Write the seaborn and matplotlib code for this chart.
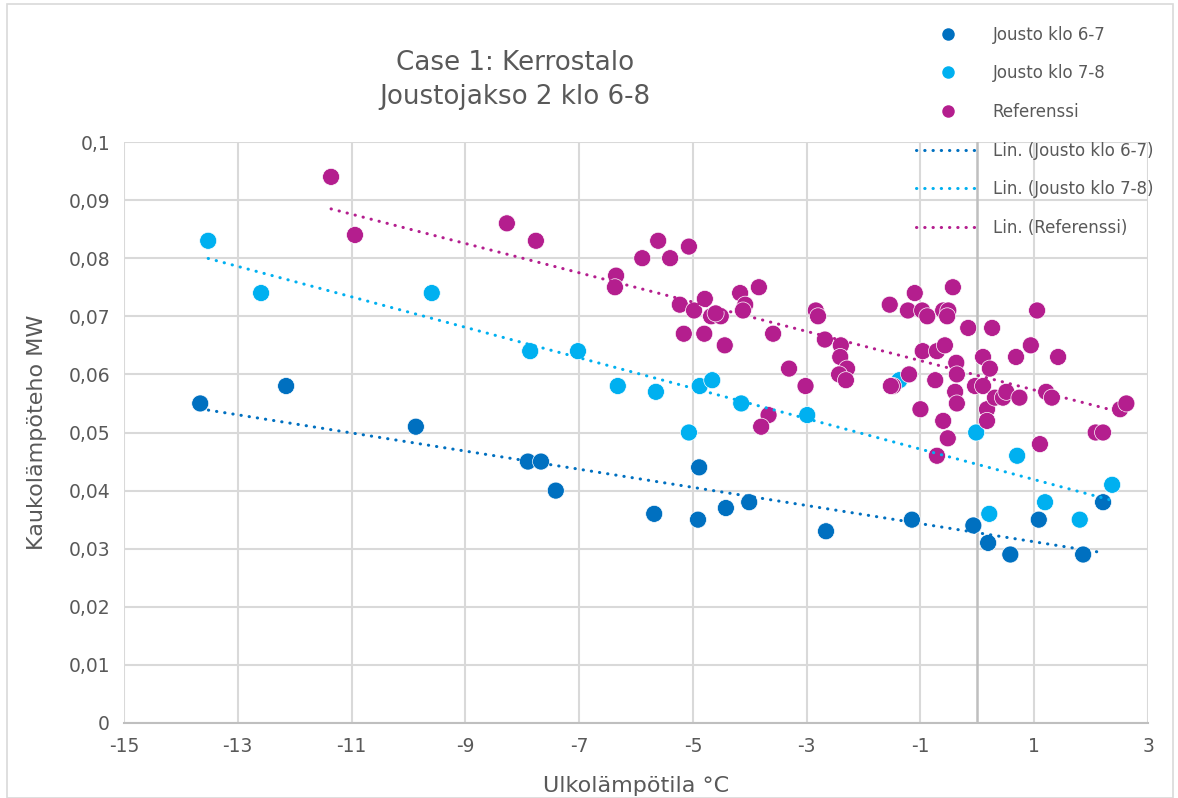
import numpy as np
import pandas as pd
import seaborn as sns
import matplotlib.pyplot as plt
from matplotlib.patches import Rectangle
from matplotlib.ticker import FuncFormatter

# Jousto klo 6-7
x_67 = [-13.66, -12.15, -9.87, -7.90, -7.67, -7.41, -5.68, -4.89, -4.91, -4.42,
        -4.01, -2.66, -1.15, -0.07, 0.19, 0.58, 1.08, 1.86, 2.21]
y_67 = [0.055, 0.058, 0.051, 0.045, 0.045, 0.040, 0.036, 0.044, 0.035, 0.037,
        0.038, 0.033, 0.035, 0.034, 0.031, 0.029, 0.035, 0.029, 0.038]

# Jousto klo 7-8
x_78 = [-13.52, -12.59, -9.59, -7.86, -7.02, -6.32, -5.65, -4.88, -4.66, -4.15,
        -5.07, -2.99, -1.37, -0.02, 0.21, 0.70, 1.19, 1.80, 2.37]
y_78 = [0.083, 0.074, 0.074, 0.064, 0.064, 0.058, 0.057, 0.058, 0.059, 0.055,
        0.050, 0.053, 0.059, 0.050, 0.036, 0.046, 0.038, 0.035, 0.041]

# Referenssi
x_ref = [-11.36, -10.94, -8.27, -7.76, -6.35, -6.37, -5.89, -5.61, -5.40, -5.07,
         -5.23, -4.98, -4.79, -4.68, -4.51, -4.60, -4.17, -4.08, -4.12, -3.84,
         -5.16, -4.80, -4.44, -3.59, -3.31, -3.02, -3.67, -3.80, -2.84, -2.80,
         -2.68, -2.40, -2.41, -2.29, -2.43, -2.31, -1.54, -1.10, -1.22, -0.97,
         -0.88, -0.60, -0.51, -0.53, -0.43, -0.16, 0.26, 1.05, -0.96, -0.71,
         -0.57, -0.37, -0.36, 0.10, 0.22, 0.68, 0.94, 1.42, -1.20, -1.48,
         -1.52, -0.74, -0.39, -0.36, -1.00, -0.60, -0.52, -0.71, -0.04, 0.10,
         0.17, 0.17, 0.31, 0.45, 0.51, 0.74, 1.21, 1.31, 1.10, 2.08,
         2.21, 2.51, 2.62]
y_ref = [0.094, 0.084, 0.086, 0.083, 0.077, 0.075, 0.080, 0.083, 0.080, 0.082,
         0.072, 0.071, 0.073, 0.070, 0.070, 0.0705, 0.074, 0.072, 0.071, 0.075,
         0.067, 0.067, 0.065, 0.067, 0.061, 0.058, 0.053, 0.051, 0.071, 0.070,
         0.066, 0.065, 0.063, 0.061, 0.060, 0.059, 0.072, 0.074, 0.071, 0.071,
         0.070, 0.071, 0.071, 0.070, 0.075, 0.068, 0.068, 0.071, 0.064, 0.064,
         0.065, 0.062, 0.060, 0.063, 0.061, 0.063, 0.065, 0.063, 0.060, 0.058,
         0.058, 0.059, 0.057, 0.055, 0.054, 0.052, 0.049, 0.046, 0.058, 0.058,
         0.054, 0.052, 0.056, 0.056, 0.057, 0.056, 0.057, 0.056, 0.048, 0.050,
         0.050, 0.054, 0.055]

names = ["Jousto klo 6-7", "Jousto klo 7-8", "Referenssi"]
colors = ["#0070C0", "#00B0F0", "#B41E8E"]
x_ticks = list(range(-15, 4, 2))
y_ticks = [i / 100 for i in range(0, 11)]

df = pd.concat([
    pd.DataFrame({"x": x_67, "y": y_67, "sarja": names[0]}),
    pd.DataFrame({"x": x_78, "y": y_78, "sarja": names[1]}),
    pd.DataFrame({"x": x_ref, "y": y_ref, "sarja": names[2]}),
])

sns.set_style("white")
plt.rcParams["font.family"] = ["DejaVu Sans"]
plt.rcParams["axes.unicode_minus"] = False
grey = "#595959"

fig = plt.figure(figsize=(11.78, 7.98), dpi=100)
ax = fig.add_axes([124 / 1178, 1 - 723 / 798, 1024 / 1178, 581 / 798])

sns.scatterplot(data=df, x="x", y="y", hue="sarja", palette=dict(zip(names, colors)),
                s=150, edgecolor="white", linewidth=0.5, ax=ax, legend=False, zorder=3)

line_handles = []
for n, c in zip(names, colors):
    sub = df[df["sarja"] == n]
    sns.regplot(data=sub, x="x", y="y", scatter=False, ci=None, ax=ax,
                line_kws=dict(color=c, lw=2.2, ls=(0, (0.1, 2.6)),
                              dash_capstyle="round", zorder=4))
    line_handles.append(ax.lines[-1])

ax.set_xlim(-15, 3)
ax.set_ylim(0, 0.1)
ax.set_xticks(x_ticks)
ax.set_yticks(y_ticks)
ax.yaxis.set_major_formatter(FuncFormatter(lambda v, p: ("%g" % round(v, 2)).replace(".", ",")))
ax.grid(True, color="#D9D9D9", lw=1.5)
ax.set_axisbelow(True)
for s in ["top", "right", "left"]:
    ax.spines[s].set_visible(False)
ax.spines["bottom"].set_color("#BFBFBF")
ax.spines["bottom"].set_linewidth(1.5)
ax.axvline(0, color="#BFBFBF", lw=1.8, zorder=1)
ax.tick_params(axis="both", length=0, labelsize=13.5, colors=grey, pad=10)
ax.set_xlabel("")
ax.set_ylabel("")

fig.text(636 / 1178, 1 - 786 / 798, "Ulkolämpötila °C", ha="center", va="center",
         fontsize=16, color=grey)
fig.text(37 / 1178, 1 - 432 / 798, "Kaukolämpöteho MW", ha="center", va="center",
         rotation=90, fontsize=16, color=grey)
fig.text(515 / 1178, 1 - 80 / 798, "Case 1: Kerrostalo\nJoustojakso 2 klo 6-8",
         ha="center", va="center", fontsize=18.8, color=grey, linespacing=1.35)

dot_handles = [plt.Line2D([], [], ls="none", marker="o", ms=9, color=c, mec="none") for c in colors]
labels = names + ["Lin. (%s)" % n for n in names]
fig.legend(dot_handles + line_handles, labels, loc="upper left",
           bbox_to_anchor=(909 / 1178, 1 - 19 / 798), frameon=False,
           fontsize=12, labelcolor=grey, handlelength=3.9, handletextpad=0.72,
           labelspacing=1.24, borderaxespad=0)

fig.patches.append(Rectangle((7 / 1178, 0), 1166 / 1178, 1 - 4 / 798, transform=fig.transFigure,
                             fill=False, edgecolor="#D9D9D9", lw=1.2))

fig.savefig("out.png", dpi=100)
